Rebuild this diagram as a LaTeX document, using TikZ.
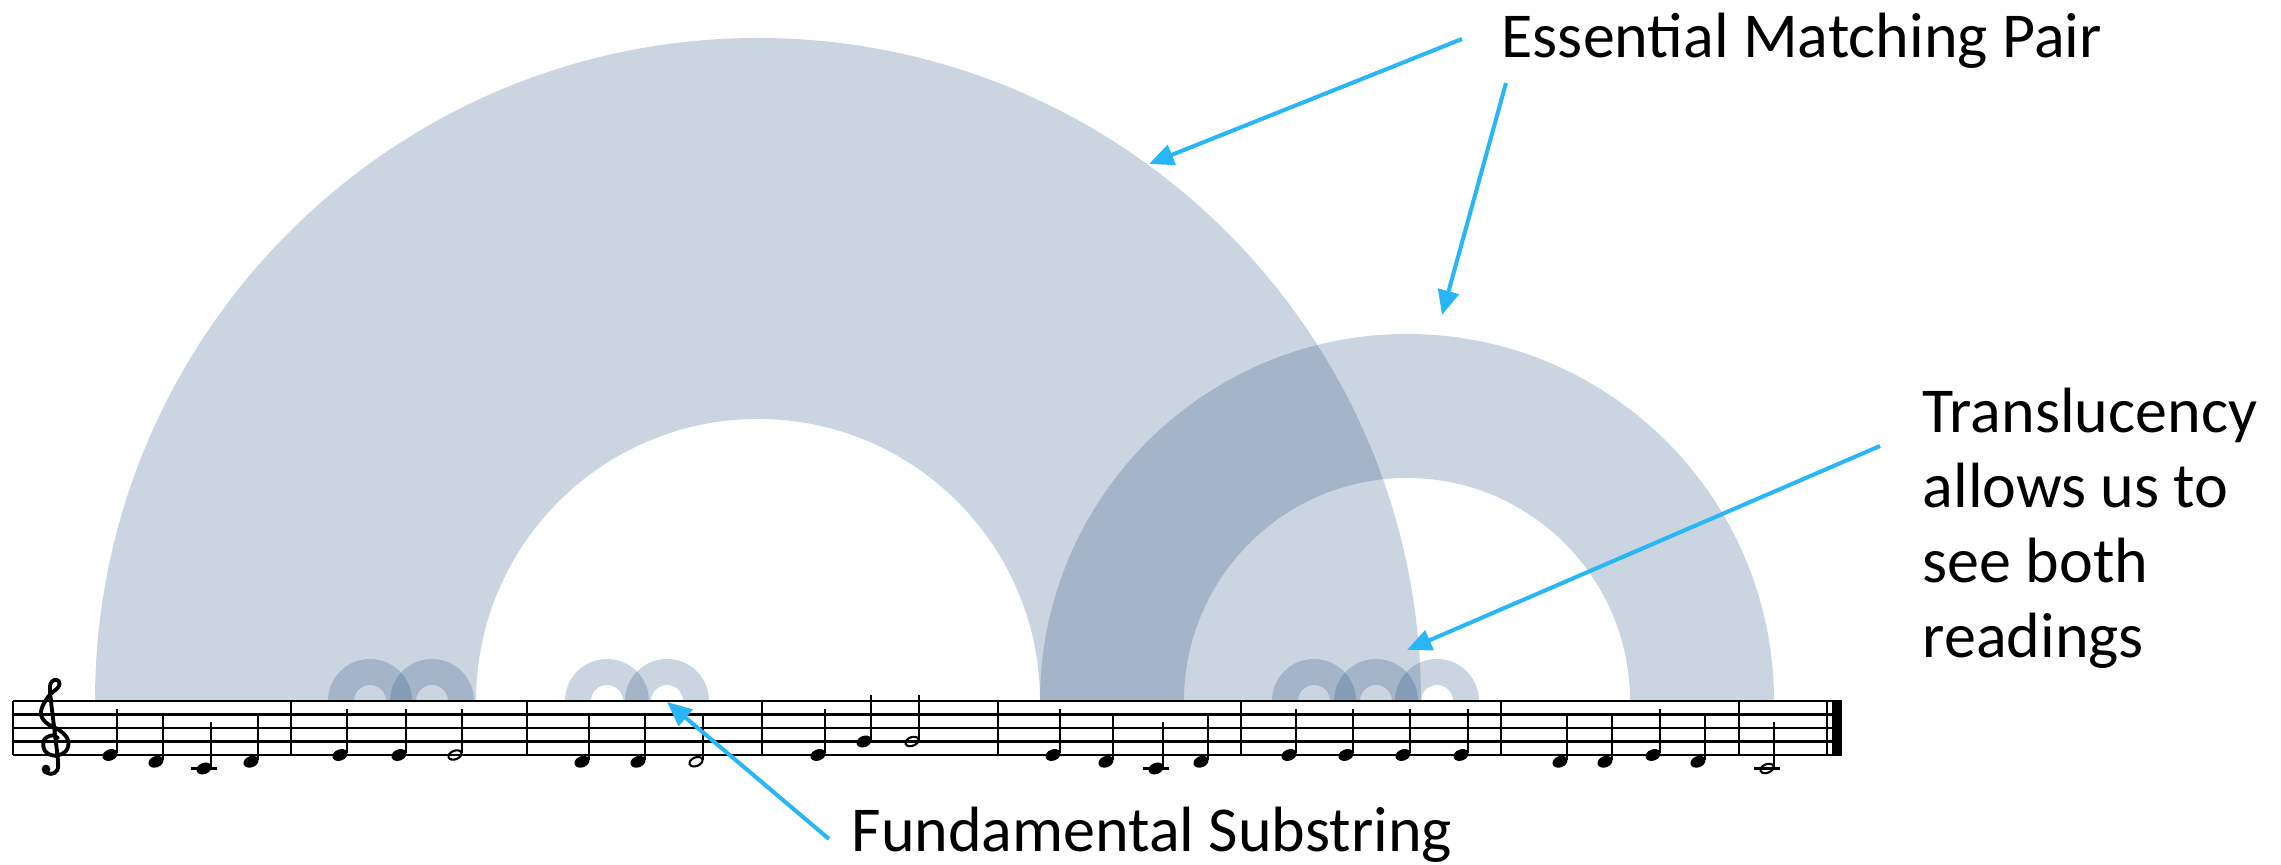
\documentclass[tikz,border=0pt]{standalone}
\usepackage{fontspec}
\setmainfont{Carlito}
\usetikzlibrary{arrows.meta}
\definecolor{arcblue}{HTML}{1F497D}
\definecolor{callblue}{RGB}{41,182,246}
\newcommand\halfring[3]{%
  \fill[ringfill] (#1-#2,164) arc[start angle=180,end angle=0,radius=#2]
    -- (#1+#3,164) arc[start angle=0,end angle=180,radius=#3] -- cycle;}
\tikzset{
  ringfill/.style={fill=arcblue, fill opacity=0.23},
  staffline/.style={draw=black, line width=0.65pt},
  barline/.style={draw=black, line width=0.65pt},
  stem/.style={draw=black, line width=0.6pt},
  clefline/.style={draw=black, line width=1.1pt, line cap=round, line join=round},
  lbl/.style={font=\fontsize{18.2}{21.34}\selectfont, inner sep=0pt, text=black},
  callout/.style={draw=callblue, line width=1.15pt, -{Triangle[length=7pt,width=6pt]}}
}
\begin{document}
\begin{tikzpicture}[x=0.01cm,y=0.01cm]
\useasboundingbox (0,0) rectangle (2281,865);
% translucent arcs
\halfring{758}{663}{282}
\halfring{1407}{367}{223}
\foreach \c in {370,432,607,667,1314,1376,1437} {\halfring{\c}{42}{16}}
% staff
\foreach \k in {0,...,4} \draw[staffline] (13,164-13.5*\k) -- (1842,164-13.5*\k);
\foreach \bx in {13,291,527,762,998,1241,1501,1739,1827} \draw[barline] (\bx,164) -- (\bx,110);
\fill (1832,110) rectangle (1842,164);
% treble clef (drawn shape)
\begin{scope}[shift={(52,110)}, xscale=20, yscale=13.5]
  \draw[clefline] plot[smooth, tension=0.65] coordinates {
    (0.3,1.25) (0,1.45) (-0.4,1.1) (-0.35,0.3) (0.15,-0.05) (0.7,0.3)
    (0.8,1.1) (0.4,1.8) (-0.3,2.4) (-0.55,3.2) (-0.2,4.3) (0.3,5.0)
    (0.35,5.45) (0.1,5.55) (-0.1,5.1) (-0.05,4.0) (0.15,1.5) (0.3,-0.5)
    (0.25,-1.15) (-0.05,-1.4) (-0.4,-1.2)};
  \fill (-0.3,-1.05) ellipse[x radius=0.22, y radius=0.33];
\end{scope}
% ledger lines
\foreach \nx in {204,1156,1767} \draw[staffline] (\nx-13,96.5) -- (\nx+13,96.5);
% quarter notes
\foreach \nx/\ny in {110/110,156/103.25,204/96.5,251/103.25,
  340/110,399/110,
  582/103.25,638/103.25,
  818/110,864/123.5,
  1053/110,1106/103.25,1156/96.5,1201/103.25,
  1289/110,1346/110,1403/110,1461/110,
  1560/103.25,1605/103.25,1653/110,1698/103.25} {
  \fill[rotate around={22:(\nx,\ny)}] (\nx,\ny) ellipse[x radius=7.8, y radius=5.6];
  \draw[stem] (\nx+6.9,\ny+1.5) -- (\nx+6.9,\ny+46);
}
% half notes
\foreach \nx/\ny in {455/110,696/103.25,912/123.5,1767/96.5} {
  \draw[line width=0.6pt, rotate around={22:(\nx,\ny)}] (\nx,\ny) ellipse[x radius=6.8, y radius=4.3];
  \draw[stem] (\nx+6.6,\ny+1.5) -- (\nx+6.6,\ny+46);
}
% labels
\node[lbl, anchor=base west] (emp) at (1501,807) {Essential Matching Pair};
\node[lbl, anchor=base west] (fs) at (851,13) {Fundamental Substring};
\node[lbl, anchor=base west, align=left] (tr) at (1922,207) {Translucency\\allows us to\\see both\\readings};
% callout arrows
\coordinate (a1s) at (1462,826); \coordinate (a1e) at (1149,701);
\coordinate (a2s) at (1506,782); \coordinate (a2e) at (1442,550);
\coordinate (a3s) at (1880,419); \coordinate (a3e) at (1407,215);
\coordinate (a4s) at (829,26);   \coordinate (a4e) at (667,163);
\draw[callout] (a1s) -- (a1e);
\draw[callout] (a2s) -- (a2e);
\draw[callout] (a3s) -- (a3e);
\draw[callout] (a4s) -- (a4e);
\end{tikzpicture}
\end{document}
